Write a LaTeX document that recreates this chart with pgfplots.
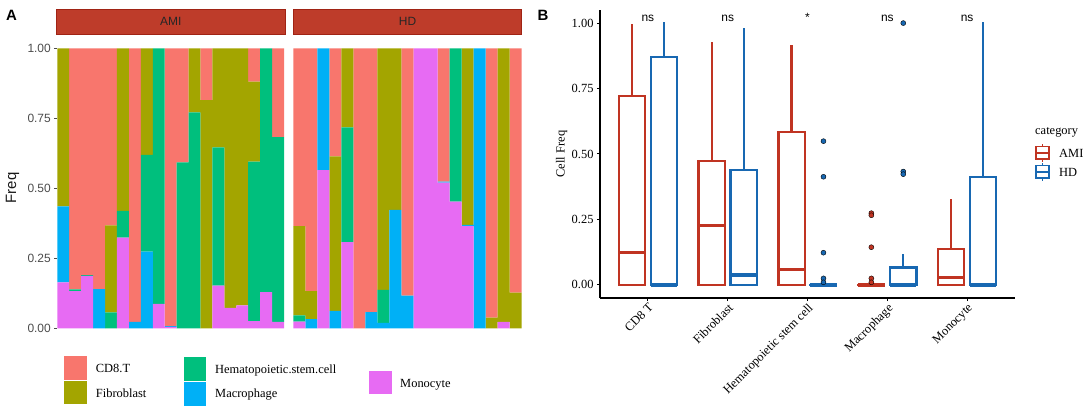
\documentclass[border=0pt]{standalone}
\usepackage{fontspec}
\setmainfont{Liberation Serif}
\newfontfamily\arial{Liberation Sans}
\usepackage{pgfplots}
\usepackage{pgfplotstable}
\pgfplotsset{compat=1.18}

\definecolor{cCD}{HTML}{F8766D}
\definecolor{cFib}{HTML}{A3A500}
\definecolor{cHSC}{HTML}{00BF7D}
\definecolor{cMac}{HTML}{00B0F6}
\definecolor{cMono}{HTML}{E76BF3}
\definecolor{ami}{RGB}{192,52,34}
\definecolor{hd}{RGB}{24,104,178}
\definecolor{strip}{RGB}{190,60,42}
\definecolor{stripborder}{RGB}{160,35,20}

% columns: sample, Monocyte, Macrophage, HSC, Fibroblast, CD8.T
\pgfplotstableread{
x mono mac hsc fib cd
1 0.164 0.271 0 0.565 0
2 0.133 0 0.006 0 0.861
3 0.187 0 0.003 0 0.810
4 0 0.140 0 0 0.860
5 0 0 0.057 0.311 0.632
6 0.324 0 0.095 0.581 0
7 0 0.023 0 0 0.977
8 0 0.274 0.345 0.381 0
9 0.087 0 0.913 0 0
10 0.005 0.003 0 0 0.992
11 0 0 0.593 0 0.407
12 0 0 0.771 0.229 0
13 0 0 0 0.815 0.185
14 0.152 0 0.494 0.354 0
15 0.073 0 0 0.927 0
16 0.082 0 0 0.918 0
17 0.026 0 0.569 0.286 0.119
18 0.129 0 0.871 0 0
19 0.023 0 0.660 0 0.317
}\amitab

\pgfplotstableread{
x mono mac hsc fib cd
1 0.024 0 0.022 0.319 0.635
2 0 0.033 0 0.100 0.867
3 0.565 0.435 0 0 0
4 0 0.062 0 0.552 0.386
5 0.308 0 0.410 0.282 0
6 0 0 0 0 1
7 0 0.058 0 0 0.942
8 0 0.019 0.118 0.863 0
9 0 0.423 0 0.577 0
10 0 0.117 0 0 0.883
11 1 0 0 0 0
12 1 0 0 0 0
13 0.520 0.004 0 0 0.476
14 0.452 0 0.548 0 0
15 0.365 0.004 0 0.631 0
16 0 1 0 0 0
17 0 0 0 0.038 0.962
18 0.023 0 0 0.977 0
19 0 0 0 0.127 0.873
}\hdtab

\pgfplotsset{
  stackpanel/.style={
    anchor=south west, scale only axis, height=280bp,
    ybar stacked, bar width=1,
    xmin=0.5, xmax=19.5, ymin=0, ymax=1,
    hide x axis,
    every axis plot/.append style={draw=none},
  },
  boxline/.style={draw=#1, line width=2.3bp, line cap=rect, mark=none},
  medline/.style={draw=#1, line width=3.2bp, line cap=butt, mark=none},
}

\newcommand{\stackplots}[1]{%
  \addplot[fill=cMono] table[x=x,y=mono]{#1};
  \addplot[fill=cMac] table[x=x,y=mac]{#1};
  \addplot[fill=cHSC] table[x=x,y=hsc]{#1};
  \addplot[fill=cFib] table[x=x,y=fib]{#1};
  \addplot[fill=cCD] table[x=x,y=cd]{#1};
}

% box: colour, left, centre, right, lower quartile, median, upper quartile, upper whisker
\newcommand{\bx}[8]{%
  \addplot[boxline=#1] coordinates {(#3,#7) (#3,#8)};
  \addplot[boxline=#1] coordinates {(#2,#5) (#4,#5) (#4,#7) (#2,#7) (#2,#5)};
  \addplot[medline=#1] coordinates {(#2,#6) (#4,#6)};
}

\begin{document}
\begin{tikzpicture}
\path[use as bounding box] (0,0) rectangle (1084bp,412bp);

% ---------------- Panel A ----------------
\begin{axis}[stackpanel, at={(57.3bp,83.7bp)}, width=226.7bp,
  axis y line*=left, y axis line style={draw=none},
  ytick={0,0.25,0.5,0.75,1},
  tick align=outside, major tick length=3bp,
  ytick style={draw=black!70, line width=0.9bp},
  /pgf/number format/assume math mode=true,
  yticklabel style={font=\arial\fontsize{12}{12}\selectfont, text=black!70,
    /pgf/number format/.cd, fixed, fixed zerofill, precision=2},
]
\stackplots{\amitab}
\end{axis}

\begin{axis}[stackpanel, at={(293.3bp,83.7bp)}, width=228.4bp, hide y axis]
\stackplots{\hdtab}
\end{axis}

% strips
\fill[strip, draw=stripborder, line width=0.7bp] (56bp,378bp) rectangle (285.5bp,402.5bp);
\node[font=\arial\fontsize{12}{12}\selectfont, text=black!85] at (170.7bp,390.2bp) {AMI};
\fill[strip, draw=stripborder, line width=0.7bp] (293.3bp,378bp) rectangle (521.7bp,402.5bp);
\node[font=\arial\fontsize{12}{12}\selectfont, text=black!85] at (407.5bp,390.2bp) {HD};

\node[rotate=90, font=\arial\fontsize{15}{15}\selectfont, text=black!90] at (12.5bp,224bp) {Freq};
\node[font=\arial\bfseries\fontsize{15}{15}\selectfont] at (11.5bp,397bp) {A};

% legend A
\fill[cCD] (64bp,32bp) rectangle (87bp,56bp);
\fill[cFib] (64bp,7.5bp) rectangle (87bp,31.3bp);
\fill[cHSC] (183.7bp,31.3bp) rectangle (206bp,55bp);
\fill[cMac] (183.7bp,6bp) rectangle (206bp,30.3bp);
\fill[cMono] (369bp,18bp) rectangle (392bp,41bp);
\begin{scope}[every node/.style={anchor=base west, inner sep=0pt, font=\fontsize{12.5}{12.5}\selectfont}]
\node at (95.7bp,39.6bp) {CD8.T};
\node at (95.7bp,14.6bp) {Fibroblast};
\node at (215bp,38.4bp) {Hematopoietic.stem.cell};
\node at (215bp,14.4bp) {Macrophage};
\node at (400bp,25bp) {Monocyte};
\end{scope}

% ---------------- Panel B ----------------
\begin{axis}[at={(600bp,114bp)}, anchor=south west, scale only axis,
  width=415bp, height=288bp,
  xmin=0.4, xmax=5.6, ymin=-0.05, ymax=1.05,
  axis x line*=bottom, axis y line*=left,
  axis line style={line width=1.5bp, -},
  xtick={1,2,3,4,5},
  xticklabels={CD8 T, Fibroblast, Hematopoietic stem cell, Macrophage, Monocyte},
  x tick label style={rotate=45, anchor=north east, inner sep=1bp,
    font=\fontsize{12.5}{12.5}\selectfont},
  ytick={0,0.25,0.5,0.75,1},
  /pgf/number format/assume math mode=true,
  yticklabel style={font=\fontsize{12.5}{12.5}\selectfont,
    /pgf/number format/.cd, fixed, fixed zerofill, precision=2},
  tick align=outside, major tick length=3bp,
  tick style={line width=1bp, black},
  clip=false,
]
% AMI boxes
\bx{ami}{0.635}{0.8}{0.965}{0}{0.125}{0.722}{0.991}
\bx{ami}{1.635}{1.8}{1.965}{0}{0.226}{0.473}{0.924}
\bx{ami}{2.635}{2.8}{2.965}{0}{0.060}{0.583}{0.911}
\bx{ami}{3.635}{3.8}{3.965}{0}{0}{0}{0}
\bx{ami}{4.635}{4.8}{4.965}{0}{0.029}{0.137}{0.324}
% HD boxes
\bx{hd}{1.035}{1.2}{1.365}{0}{0}{0.870}{1.0}
\bx{hd}{2.035}{2.2}{2.365}{0}{0.038}{0.440}{0.975}
\bx{hd}{3.035}{3.2}{3.365}{0}{0}{0}{0}
\bx{hd}{4.035}{4.2}{4.365}{0}{0}{0.066}{0.114}
\bx{hd}{5.035}{5.2}{5.365}{0}{0}{0.413}{1.0}
% outliers
\addplot[only marks, mark=*, mark size=2.5bp, mark options={draw=none, fill=ami}] coordinates {(3.8,0.274) (3.8,0.266) (3.8,0.144) (3.8,0.025) (3.8,0.010)};
\addplot[only marks, mark=*, mark size=2.5bp, mark options={draw=none, fill=hd}] coordinates {(3.2,0.549) (3.2,0.413) (3.2,0.123) (3.2,0.025) (3.2,0.010)};
\addplot[only marks, mark=*, mark size=2.5bp, mark options={draw=none, fill=hd}] coordinates {(4.2,1.0) (4.2,0.433) (4.2,0.423)};
% significance
\begin{scope}[every node/.style={font=\arial\fontsize{12}{12}\selectfont}]
\node at (axis cs:1,1.017) {ns};
\node at (axis cs:2,1.017) {ns};
\node at (axis cs:3,1.022) {*};
\node at (axis cs:4,1.017) {ns};
\node at (axis cs:5,1.017) {ns};
\end{scope}
\end{axis}

\node[rotate=90, font=\fontsize{12.5}{12.5}\selectfont] at (561.7bp,258bp) {Cell Freq};
\node[font=\arial\bfseries\fontsize{15}{15}\selectfont] at (543bp,397bp) {B};

% legend B
\node[anchor=west, inner sep=0pt, font=\fontsize{12.5}{12.5}\selectfont] at (1035bp,279.3bp) {category};
\begin{scope}[line width=1.6bp]
\draw[ami] (1036bp,252.7bp) rectangle (1049bp,265.3bp);
\draw[ami] (1036bp,259bp) -- (1049bp,259bp);
\draw[ami] (1042.5bp,265.3bp) -- (1042.5bp,268bp);
\draw[ami] (1042.5bp,252.7bp) -- (1042.5bp,250bp);
\draw[hd] (1036bp,233.7bp) rectangle (1049bp,246.3bp);
\draw[hd] (1036bp,240bp) -- (1049bp,240bp);
\draw[hd] (1042.5bp,246.3bp) -- (1042.5bp,249bp);
\draw[hd] (1042.5bp,233.7bp) -- (1042.5bp,231bp);
\end{scope}
\node[anchor=west, inner sep=0pt, font=\fontsize{12.5}{12.5}\selectfont] at (1059bp,259bp) {AMI};
\node[anchor=west, inner sep=0pt, font=\fontsize{12.5}{12.5}\selectfont] at (1059bp,240bp) {HD};

\end{tikzpicture}
\end{document}
